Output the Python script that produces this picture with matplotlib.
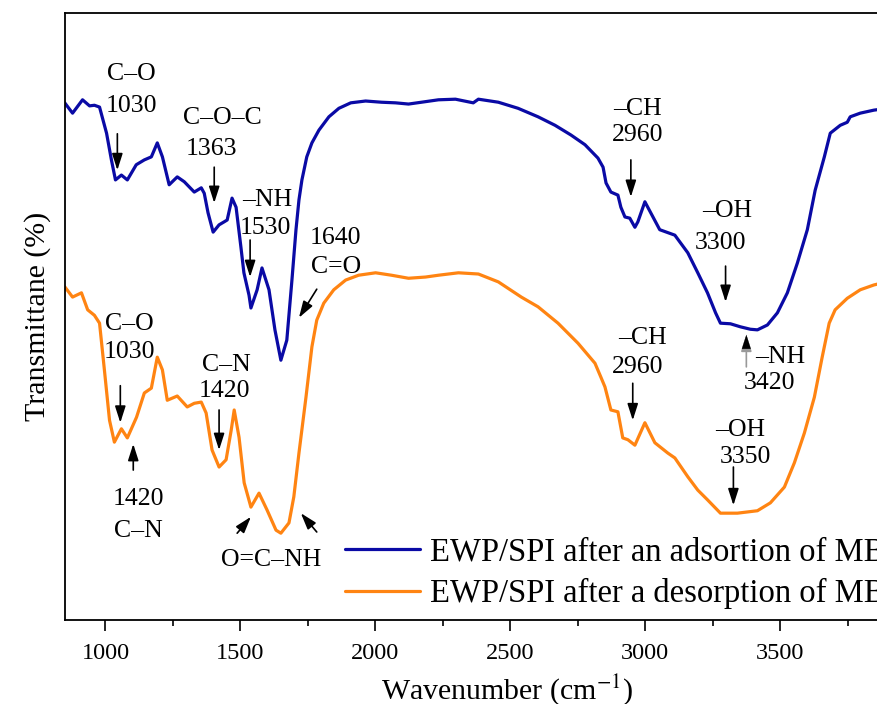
import matplotlib
matplotlib.use("Agg")
import matplotlib.pyplot as plt
import numpy as np

plt.rcParams['font.family'] = ['Liberation Serif', 'DejaVu Serif']
plt.rcParams['mathtext.fontset'] = 'stix'

# ---- data ----
wn_ads = [849, 878, 915, 941, 959, 978, 1004, 1022, 1037, 1059, 1081, 1114, 1144, 1170,
          1192, 1211, 1236, 1266, 1292, 1329, 1355, 1366, 1380, 1399, 1421, 1440, 1451,
          1469, 1484, 1502, 1513, 1532, 1539, 1562, 1580, 1606, 1628, 1650, 1672, 1691,
          1706, 1717, 1728, 1746, 1765, 1791, 1828, 1865, 1909, 1964, 2023, 2075, 2123,
          2171, 2234, 2297, 2352, 2363, 2382, 2456, 2529, 2603, 2666, 2725, 2777, 2825,
          2844, 2855, 2873, 2899, 2910, 2925, 2943, 2962, 2973, 2999, 3054, 3110, 3158,
          3195, 3231, 3261, 3279, 3316, 3353, 3390, 3416, 3453, 3490, 3527, 3564, 3601,
          3630, 3664, 3686, 3723, 3749, 3760, 3797, 3848, 3950]
t_ads = [85.2, 83.5, 85.7, 84.7, 84.8, 84.5, 80.2, 75.8, 72.5, 73.3, 72.5, 75.0, 75.8, 76.3,
         78.6, 76.3, 71.7, 73.0, 72.2, 70.5, 71.2, 70.3, 67.1, 63.9, 65.1, 65.6, 65.9,
         69.5, 68.0, 61.4, 57.2, 53.5, 51.4, 54.4, 58.0, 54.4, 47.8, 42.8, 46.1, 56.0,
         64.3, 69.2, 72.5, 76.3, 78.6, 80.7, 82.9, 84.3, 85.2, 85.5, 85.3, 85.2, 85.0,
         85.3, 85.7, 85.8, 85.3, 85.2, 85.8, 85.3, 84.3, 82.9, 81.5, 79.9, 78.3, 76.1,
         74.6, 72.0, 70.5, 70.0, 68.0, 66.4, 66.2, 64.7, 65.6, 68.9, 64.3, 63.4, 60.5,
         57.2, 53.9, 50.6, 48.9, 48.8, 48.3, 47.9, 47.8, 48.6, 50.6, 53.9, 58.8, 64.3,
         70.8, 76.3, 80.2, 81.5, 82.0, 82.9, 83.5, 84.0, 84.6]

wn_des = [849, 878, 911, 934, 959, 978, 996, 1015, 1033, 1059, 1081, 1115, 1144, 1170,
          1192, 1211, 1229, 1266, 1303, 1329, 1355, 1373, 1395, 1421, 1447, 1466, 1477,
          1495, 1514, 1539, 1569, 1599, 1632, 1650, 1680, 1698, 1717, 1743, 1765, 1783,
          1809, 1846, 1890, 1938, 2001, 2060, 2123, 2186, 2234, 2308, 2382, 2456, 2541,
          2603, 2677, 2751, 2814, 2836, 2851, 2873, 2899, 2917, 2936, 2962, 2999, 3036,
          3084, 3110, 3158, 3195, 3231, 3279, 3342, 3416, 3464, 3516, 3553, 3590, 3627,
          3656, 3682, 3704, 3749, 3797, 3848, 3950]
t_des = [54.9, 53.2, 53.9, 51.1, 50.2, 48.9, 41.2, 32.9, 29.3, 31.5, 30.0, 33.4, 37.4, 38.2,
         43.3, 41.2, 36.2, 36.9, 35.1, 35.7, 35.9, 34.1, 28.0, 25.2, 26.4, 31.3, 34.6,
         30.1, 22.6, 18.6, 20.9, 18.1, 14.8, 14.3, 16.0, 20.3, 27.5, 36.7, 45.0, 49.4,
         52.2, 54.4, 56.0, 56.8, 57.2, 56.8, 56.3, 56.5, 56.8, 57.2, 57.0, 55.7, 53.2,
         51.6, 48.9, 45.6, 42.3, 40.0, 38.4, 34.6, 34.3, 30.0, 29.7, 28.8, 32.5, 29.2,
         27.5, 26.7, 23.6, 21.4, 19.8, 17.6, 17.6, 18.0, 19.3, 21.9, 25.9, 30.8, 36.7,
         43.3, 48.9, 51.1, 53.0, 54.4, 55.2, 56.3]

series_labels = ["EWP/SPI after an adsortion of MB", "EWP/SPI after a desorption of MB"]
xticks = [1000, 1500, 2000, 2500, 3000, 3500]

# peak labels: (text, x, y)
labels_ads = [("C\u2013O", 1096, 90.0), ("1030", 1096, 84.7),
              ("C\u2013O\u2013C", 1432, 82.7), ("1363", 1392, 77.6),
              ("\u2013NH", 1598, 69.2), ("1530", 1591, 64.6),
              ("1640", 1853, 62.9), ("C=O", 1853, 58.2),
              ("\u2013CH", 2973, 84.2), ("2960", 2973, 79.9),
              ("\u2013OH", 3302, 67.4), ("3300", 3279, 62.1),
              ("\u2013NH", 3501, 43.3), ("3420", 3460, 39.0)]
labels_des = [("C\u2013O", 1089, 48.8), ("1030", 1089, 44.2),
              ("C\u2013N", 1447, 42.0), ("1420", 1440, 37.7),
              ("1420", 1122, 19.9), ("C\u2013N", 1122, 14.7),
              ("O=C\u2013NH", 1613, 9.9),
              ("\u2013CH", 2991, 46.5), ("2960", 2973, 41.7),
              ("\u2013OH", 3353, 31.3), ("3350", 3372, 26.9)]
# arrows: (x_tail, y_tail, x_head, y_head, colour of shaft)
arrows = [(1044, 80.1, 1044, 74.1, 'k'), (1403, 74.6, 1403, 68.7, 'k'),
          (1536, 62.6, 1536, 56.5, 'k'), (1783, 54.5, 1717, 49.8, 'k'),
          (2947, 75.8, 2947, 69.7, 'k'), (3298, 58.3, 3298, 52.4, 'k'),
          (3375, 41.7, 3375, 47.0, '#999999'),
          (1055, 38.6, 1055, 32.5, 'k'), (1421, 34.6, 1421, 28.0, 'k'),
          (1103, 24.7, 1103, 29.0, 'k'), (1488, 14.3, 1539, 17.0, 'k'),
          (1783, 14.5, 1724, 17.6, 'k'), (2954, 39.0, 2954, 32.9, 'k'),
          (3327, 25.2, 3327, 18.9, 'k')]

# ---- figure ----
fig = plt.figure(figsize=(8.78, 7.04), dpi=100)
ax = fig.add_axes([65/878, 84/704, 850/878, 607/704])
ax.plot(wn_ads, t_ads, color='#0A0AA5', lw=2.3, label=series_labels[0],
        solid_joinstyle='round', solid_capstyle='round')
ax.plot(wn_des, t_des, color='#FF8412', lw=2.3, label=series_labels[1],
        solid_joinstyle='round', solid_capstyle='round')
ax.set_xlim(850, 4000)
ax.set_ylim(0, 100)
ax.set_yticks([])
ax.set_xticks(xticks)
ax.set_xticks(np.arange(1250, 4000, 500), minor=True)
ax.tick_params(axis='x', which='major', direction='out', length=8, width=1.2,
               labelsize=17.5, pad=8.5)
ax.tick_params(axis='x', which='minor', direction='out', length=4.5, width=1.2)
ax.spines['right'].set_visible(False)
for s in ['left', 'top', 'bottom']:
    ax.spines[s].set_linewidth(1.3)

head = '-|>,head_length=1.0,head_width=0.32'
for txt, x, y in labels_ads + labels_des:
    ax.text(x, y, txt, ha='center', va='center', fontsize=18.5)
for x0, y0, x1, y1, c in arrows:
    ax.annotate('', xy=(x1, y1), xytext=(x0, y0),
                arrowprops=dict(arrowstyle=head, color=c, lw=1.2,
                                shrinkA=0, shrinkB=0))
    if c != 'k':
        ax.annotate('', xy=(x1, y1), xytext=(x1, y1 - 1.8),
                    arrowprops=dict(arrowstyle=head, color='k', lw=0.1,
                                    shrinkA=0, shrinkB=0))

ax.set_xlabel('Wavenumber (cm$^{-1}$)', fontsize=21.5)
ax.xaxis.set_label_coords((507 - 65) / 850, -0.085)
ax.set_ylabel('Transmittane (%)', fontsize=21.5, labelpad=10)

ax.legend(loc='upper left', bbox_to_anchor=(345/878, 1 - 537/704),
          bbox_transform=fig.transFigure, frameon=False, fontsize=23.5,
          handlelength=2.3, handletextpad=0.3, labelspacing=0.32,
          borderpad=0, borderaxespad=0)

fig.savefig('out.png', dpi=100)
